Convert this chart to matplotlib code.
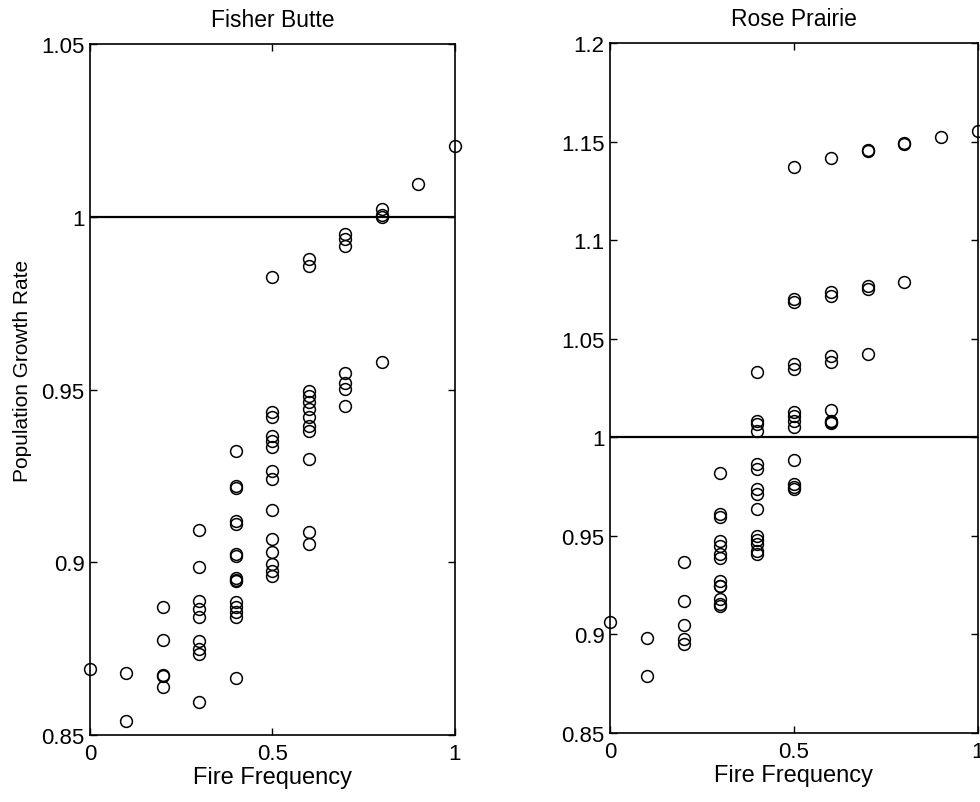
import matplotlib
matplotlib.use("Agg")
import matplotlib.pyplot as plt

plt.rcParams['font.family'] = ['Liberation Sans', 'DejaVu Sans']

# fire frequency levels (same for both sites)
freq = [0.0, 0.1, 0.2, 0.3, 0.4, 0.5, 0.6, 0.7, 0.8, 0.9, 1.0]

fb_rates = [
    [0.869],
    [0.868, 0.854],
    [0.887, 0.8775, 0.8675, 0.867, 0.864],
    [0.9093, 0.8986, 0.8889, 0.8865, 0.8841, 0.8773, 0.8749, 0.8734, 0.8595],
    [0.9323, 0.9221, 0.9215, 0.9119, 0.9111, 0.9024, 0.9018, 0.8954, 0.8949,
     0.8946, 0.8885, 0.887, 0.8856, 0.8842, 0.8665],
    [0.9825, 0.9435, 0.942, 0.9365, 0.935, 0.9335, 0.9265, 0.924, 0.9152,
     0.9068, 0.903, 0.8995, 0.8975, 0.896],
    [0.9878, 0.9858, 0.9497, 0.948, 0.9465, 0.9444, 0.942, 0.9394, 0.938,
     0.9299, 0.9088, 0.9053],
    [0.995, 0.9935, 0.9915, 0.9548, 0.9518, 0.9501, 0.9453],
    [1.0022, 1.0006, 0.9998, 0.958],
    [1.0095],
    [1.0204],
]

# Rose Prairie
rp_rates = [
    [0.9061],
    [0.898, 0.879],
    [0.9365, 0.917, 0.9047, 0.8976, 0.8951],
    [0.9818, 0.961, 0.9595, 0.9475, 0.945, 0.9407, 0.939, 0.9272, 0.9247,
     0.9245, 0.9179, 0.9155, 0.9145],
    [1.0329, 1.0084, 1.0068, 1.0033, 0.9864, 0.9839, 0.9737, 0.9712, 0.9636,
     0.95, 0.948, 0.9458, 0.9424, 0.9407],
    [1.1373, 1.0701, 1.0686, 1.0371, 1.0346, 1.0128, 1.0107, 1.0085, 1.0053,
     0.9884, 0.9763, 0.9737, 0.975],
    [1.1417, 1.0738, 1.0718, 1.0413, 1.038, 1.014, 1.0084, 1.0072, 1.0076],
    [1.1457, 1.1452, 1.0769, 1.0752, 1.0422],
    [1.1493, 1.1488, 1.0786],
    [1.1525],
    [1.1554],
]


def flatten(levels, groups):
    xs, ys = [], []
    for f, g in zip(levels, groups):
        xs += [f] * len(g)
        ys += g
    return xs, ys


tick_fs = 16
lab_fs = 17
fig = plt.figure(figsize=(9.8, 8.03), dpi=100)
ax1 = fig.add_axes([0.0918, 0.0834, 0.3724, 0.8605])
ax2 = fig.add_axes([0.6224, 0.0859, 0.3755, 0.8593])


def style(ax, x, y, title, ylim, yticks, ylabels):
    ax.plot(x, y, linestyle='none', marker='o', markersize=8.5,
            markerfacecolor='none', markeredgecolor='black',
            markeredgewidth=1.1, clip_on=False, zorder=3)
    ax.axhline(1.0, color='black', linewidth=1.6)
    ax.set_xlim(0, 1)
    ax.set_ylim(*ylim)
    ax.set_xticks([0, 0.5, 1])
    ax.set_xticklabels(['0', '0.5', '1'], fontsize=tick_fs)
    ax.set_yticks(yticks)
    ax.set_yticklabels(ylabels, fontsize=tick_fs)
    ax.tick_params(direction='in', top=True, right=True, length=5, width=1,
                   pad=4)
    ax.tick_params(axis='x', pad=6)
    ax.set_xlabel("Fire Frequency", fontsize=lab_fs, labelpad=1)
    ax.set_title(title, fontsize=16.5, pad=13)
    for s in ax.spines.values():
        s.set_linewidth(1.2)


fb_x, fb_y = flatten(freq, fb_rates)
rp_x, rp_y = flatten(freq, rp_rates)

style(ax1, fb_x, fb_y, "Fisher Butte", (0.85, 1.05),
      [0.85, 0.9, 0.95, 1.0, 1.05], ['0.85', '0.9', '0.95', '1', '1.05'])
ax1.set_ylabel("Population Growth Rate", fontsize=15)
ax1.yaxis.set_label_coords(-0.16, 0.528)

style(ax2, rp_x, rp_y, "Rose Prairie", (0.85, 1.2),
      [0.85, 0.9, 0.95, 1.0, 1.05, 1.1, 1.15, 1.2],
      ['0.85', '0.9', '0.95', '1', '1.05', '1.1', '1.15', '1.2'])

fig.savefig('out.png', dpi=100)
